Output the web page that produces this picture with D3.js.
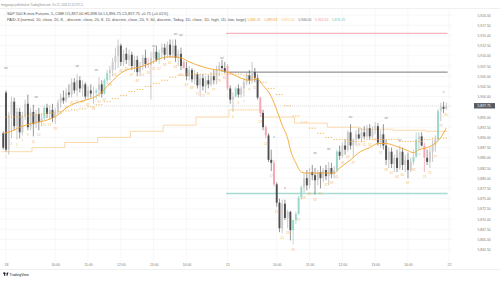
<!DOCTYPE html>
<html>
<head>
<meta charset="utf-8">
<script src="https://cdn.jsdelivr.net/npm/d3@7"></script>
<style>
  body { margin: 0; background: #fff; }
  svg { display: block; font-family: "Liberation Sans", "DejaVu Sans", sans-serif; }
</style>
</head>
<body>
<div id="chart"></div>
<script>
/* DATA */
// 5 min bars, [open, high, low, close]; first row is the last bar of the previous session
const candles18 = [
  [5891, 5891.5, 5887, 5887.5],
  [5901, 5901.5, 5886.5, 5887], [5887, 5896.25, 5885.75, 5895.5], [5895.5, 5900, 5889.75, 5898.75],
  [5898.75, 5899.75, 5891.75, 5892.75], [5892.75, 5897.25, 5889.5, 5896.25], [5896.25, 5897.25, 5889.75, 5891.25],
  [5891.25, 5896.25, 5890.5, 5895.25], [5895.25, 5899.25, 5894.25, 5898.25], [5898.25, 5900.5, 5891.75, 5892.5],
  [5892.5, 5897.25, 5891.75, 5896.25], [5896.25, 5898, 5890.25, 5893.25], [5893.25, 5896.75, 5892.25, 5895.75],
  [5895.75, 5897.25, 5891.75, 5893.75], [5893.75, 5895.75, 5892.75, 5894.75], [5894.75, 5897.75, 5894.25, 5897.25],
  [5897.25, 5898.25, 5894.75, 5895.75], [5895.75, 5897.75, 5894.25, 5896.75], [5896.75, 5898.25, 5893.75, 5894.75],
  [5894.75, 5897.25, 5893.25, 5896.25], [5896.25, 5899.25, 5895.75, 5898.5], [5898.5, 5900.75, 5897.25, 5899.75],
  [5899.75, 5901.5, 5898.25, 5899], [5899, 5902, 5898.5, 5901], [5901, 5903, 5899.75, 5900.5],
  [5900.5, 5904.5, 5899.75, 5903.5], [5903.5, 5904.5, 5900.75, 5901.5], [5901.5, 5905.5, 5900, 5904],
  [5904, 5905, 5901, 5902], [5902, 5904, 5900, 5903], [5903, 5903.5, 5899.25, 5900],
  [5900, 5902.5, 5899.25, 5901.5], [5901.5, 5903, 5899.75, 5900.75], [5900.75, 5902.5, 5898.25, 5901],
  [5901, 5902, 5899.25, 5901.5], [5901.5, 5904.75, 5900, 5903], [5903, 5904, 5899.75, 5900.75],
  [5900.75, 5904.5, 5900.5, 5904], [5904, 5906.5, 5903, 5905.75], [5905.75, 5907.5, 5904, 5906.5],
  [5906.5, 5909.5, 5905, 5908.5], [5908.5, 5912, 5906.5, 5910], [5910, 5914, 5907, 5912.5],
  [5912.5, 5913, 5907.5, 5908.5], [5908.5, 5911.5, 5907.5, 5910.5], [5910.5, 5912, 5908, 5909],
  [5909, 5911.5, 5907.5, 5910.25], [5910.25, 5911, 5906.5, 5907.5], [5907.5, 5910, 5906, 5909],
  [5909, 5910, 5905, 5906], [5906, 5908.5, 5905, 5907.5], [5907.5, 5910.25, 5906.5, 5909.5],
  [5909.5, 5911.5, 5907, 5908], [5908, 5909.5, 5907, 5907.75], [5907.75, 5911, 5899.25, 5909.5],
  [5909.5, 5912, 5908, 5911], [5911, 5912.5, 5908.5, 5909], [5909, 5911.5, 5908, 5910.75],
  [5910.75, 5913, 5909.5, 5912], [5912, 5913, 5909, 5910.25], [5910.25, 5913.5, 5909.5, 5912.75],
  [5912.75, 5914, 5909.5, 5910.25], [5910.25, 5914, 5909.5, 5912.5], [5912.5, 5914, 5908.5, 5909.5],
  [5909.5, 5911.5, 5907.5, 5910.5], [5910.5, 5912, 5906.5, 5907.5], [5908.5, 5909, 5906.75, 5907],
  [5907, 5908.5, 5904, 5905], [5905, 5907.5, 5904, 5906.5], [5906.5, 5907, 5903.5, 5904.25],
  [5904.25, 5906.5, 5903, 5905.5], [5905.5, 5906, 5902, 5902.75], [5902.75, 5905.5, 5900, 5904.5],
  [5904.5, 5905.5, 5901.5, 5902.5], [5902.5, 5905, 5900.75, 5904], [5904, 5905.25, 5902, 5903],
  [5903, 5906, 5902.5, 5905], [5905, 5906.5, 5903, 5904], [5904, 5907.5, 5903, 5906.5],
  [5906.5, 5908.5, 5905, 5907.5], [5907.5, 5909, 5906, 5907], [5907, 5908.5, 5905.75, 5906]
];
const candles21 = [
  [5907.5, 5908, 5901.5, 5902], [5902, 5902.75, 5898.25, 5899.25], [5899.25, 5901, 5896.25, 5900],
  [5900, 5902.5, 5899.75, 5902], [5902, 5903, 5899.75, 5900.5], [5900.5, 5902.5, 5899.75, 5902],
  [5902, 5904.5, 5900, 5903.5], [5903.5, 5906, 5902.75, 5905.25], [5905.25, 5906.5, 5903, 5904],
  [5904, 5908.5, 5903.25, 5906], [5906, 5907, 5903.5, 5904.5], [5904.5, 5905.5, 5899.25, 5899.75],
  [5899.75, 5900, 5895, 5896], [5896, 5896.75, 5891.75, 5892.5], [5892.5, 5893, 5889.75, 5890.5],
  [5890.5, 5891, 5884, 5884.5], [5884.5, 5887, 5881.75, 5883.75], [5883.75, 5884.5, 5878, 5878.5],
  [5878.5, 5879, 5873, 5874], [5874, 5875, 5866.75, 5867.75], [5867.75, 5874.75, 5866.5, 5873.75],
  [5873.75, 5874.75, 5869.75, 5870.25], [5870.25, 5872.25, 5867.75, 5871.75], [5871.75, 5872, 5864.75, 5867.25],
  [5867.25, 5869.75, 5863.75, 5869.75], [5869.75, 5871.75, 5868.75, 5871.25], [5871.25, 5875.75, 5871, 5875.25],
  [5875.25, 5878.25, 5874.75, 5877.75], [5877.75, 5881.25, 5876.5, 5880], [5880, 5882, 5877, 5878.25],
  [5878.25, 5882.5, 5877.5, 5881.5], [5881.5, 5883.25, 5879.5, 5880.75], [5880.75, 5882.5, 5876, 5879.5],
  [5879.5, 5882, 5878.25, 5881.5], [5881.5, 5883, 5877.5, 5880], [5880, 5882.5, 5879, 5882],
  [5882, 5883.25, 5879.5, 5880.5], [5880.5, 5884, 5878.25, 5882.5], [5882.5, 5883.75, 5880, 5881],
  [5881, 5883, 5880, 5882], [5882, 5887, 5881.5, 5886.5], [5886.5, 5888, 5884.5, 5885.5],
  [5885.5, 5888.75, 5885, 5888], [5888, 5889.5, 5885.75, 5887], [5887, 5891.75, 5886.5, 5891.25],
  [5891.25, 5893.25, 5887, 5888], [5888, 5889.75, 5885, 5889.5], [5889.5, 5891.75, 5888, 5890.75],
  [5890.75, 5892.25, 5889.5, 5889.75], [5889.75, 5892.25, 5888.75, 5891.25], [5891.25, 5892.75, 5889.5, 5890.25],
  [5890.25, 5893, 5889.75, 5892.25], [5892.25, 5893.25, 5889.5, 5890.25], [5890.25, 5892.75, 5889.75, 5891.75],
  [5891.75, 5893.75, 5890.75, 5892.75], [5892.75, 5893.5, 5888, 5888.75], [5888.75, 5891.75, 5887.5, 5890.75],
  [5890.75, 5893.25, 5887, 5888], [5888, 5889.5, 5883.25, 5884.5], [5884.5, 5887.5, 5882.5, 5886.5],
  [5886.5, 5887.5, 5882.5, 5883.5], [5883.5, 5885.75, 5881.5, 5885], [5885, 5887, 5881.5, 5882.5],
  [5882.5, 5888, 5882, 5886.5], [5886.5, 5887.5, 5882, 5883.25], [5883.25, 5885.75, 5881.5, 5884.5],
  [5884.5, 5886.25, 5880, 5882], [5882, 5885, 5881.5, 5884], [5884, 5887, 5883.25, 5885.25],
  [5885.25, 5891.25, 5885, 5889.5], [5889.5, 5891.25, 5887, 5890.25], [5890.25, 5891.25, 5887.75, 5888],
  [5888, 5888.75, 5881.5, 5885], [5885, 5887, 5883.25, 5884], [5884, 5887.5, 5882.5, 5886.5],
  [5886.5, 5889.5, 5884, 5888], [5888, 5890.5, 5886.5, 5889.5], [5889.5, 5897, 5889, 5896.5],
  [5896.5, 5898.5, 5894, 5897.5], [5897.5, 5898.75, 5896, 5897], [5897, 5898.5, 5896.75, 5897.75]
];
// signal-coloured bars (bar index, 0 = first bar of Oct 18)
const pinkBars = [52, 65, 81, 93, 95, 98, 153];
const tealBars = [14, 33, 36, 37, 56, 84, 105, 106, 107, 108, 121, 149, 150, 158];

// 5 min moving average, read at [bar index, price]
const ema5 = [[-1, 5891], [2, 5891.5], [5, 5892.5], [10, 5893.5], [15, 5894.25], [19, 5895.5], [22, 5897.25],
  [27, 5898.75], [31, 5899.5], [34, 5900.5], [38, 5903.25], [42, 5905.75], [45, 5906.75], [49, 5907.25],
  [53, 5908.25], [56, 5909.25], [60, 5909.75], [64, 5909.5], [67, 5908.5], [71, 5907.5], [75, 5906.75],
  [78, 5906.5], [82, 5905.75], [86, 5904.5], [89, 5904], [92, 5904.25], [94, 5902.75], [97, 5900],
  [99, 5896.75], [101, 5893], [103, 5889.75], [104, 5887], [106, 5883.75], [108, 5881.5], [110, 5881.25],
  [115, 5881.25], [120, 5881.25], [122, 5882.5], [126, 5884.5], [129, 5886.25], [133, 5887.5], [136, 5888.5],
  [139, 5888.5], [143, 5887.75], [147, 5886.75], [149, 5886.25], [151, 5887], [155, 5887.75], [159, 5890],
  [161, 5892.25]];
// 15 min average, one value per 15 min block (3 bars)
const ma15 = [5895, 5895, 5895.25, 5895.5, 5895.75, 5896, 5896.25, 5896.5, 5896.75, 5897, 5897.5, 5898,
  5898.75, 5899.5, 5900.25, 5901.25, 5901.75, 5902.5, 5903.25, 5904, 5904.75, 5905.25, 5905.5, 5905.5,
  5905.5, 5905.5, 5905.5,
  5905.5, 5905.5, 5905.25, 5904.75, 5903.5, 5902, 5900.5, 5897.75, 5895.25, 5893.75, 5892.25, 5891, 5890,
  5889.5, 5889.5, 5889, 5889, 5889.5, 5889.5, 5889.5, 5889.5, 5889, 5889, 5889, 5889.5, 5889.75, 5889.83];
// 60 min average, first bar of each step and its value
const ma60Start = [-1, 10, 22, 34, 46, 58, 70, 82, 94, 106, 118, 130, 142, 154];
const ma60 = [5886.5, 5887.5, 5888.75, 5890, 5891.5, 5893, 5895, 5896.75, 5895, 5893.5, 5892.5, 5892, 5891.75, 5891.5];

// previous day close / high / low
const dayLevels = [5906.00, 5915.50, 5876.25];
const legendValues = [5880.41, 5889.83, 5891.50, 5906.00, 5915.50, 5876.25];

// pattern marks [bar index, price]
const ioiMarks = [[0, 5907], [11, 5900], [26, 5907.5], [33, 5906.5], [54, 5912.5], [62, 5915.5], [64, 5915.25],
  [79, 5909.5], [113, 5886.25], [118, 5887.25], [126, 5895], [139, 5894.75], [144, 5889.5]];
const iiMarks = [[98, 5890.25], [102, 5877.75], [160, 5901.25]];

const priceTicks = [5862.5, 5865, 5867.5, 5870, 5872.5, 5875, 5877.5, 5880, 5882.5, 5885, 5887.5, 5890,
  5892.5, 5895, 5897.5, 5900, 5902.5, 5905, 5907.5, 5910, 5912.5, 5915, 5917.5, 5920];
const timeTicks = [0, 18, 30, 42, 54, 66, 81, 99, 111, 123, 135, 147, 162];
const timeLabels = ["18", "10:00", "11:00", "12:00", "13:00", "14:00", "21", "10:00", "11:00", "12:00", "13:00", "14:00", "22"];

/* SETUP */
const width = 500, height = 281;
const paneRight = 452, paneTop = 9, paneBottom = 261;
const fmt = d3.format(",.2f");

const x = d3.scaleLinear().domain([0, 162]).range([6, 449]);
const y = d3.scaleLinear().domain([5862.5, 5920]).range([249.6, 15]);

const bars = [];
candles18.forEach((d, k) => bars.push({ i: k - 1, o: d[0], h: d[1], l: d[2], c: d[3] }));
candles21.forEach((d, k) => bars.push({ i: k + 81, o: d[0], h: d[1], l: d[2], c: d[3] }));
const last = bars[bars.length - 1];
const prev = bars[bars.length - 2];

const svg = d3.select("#chart").append("svg")
  .attr("width", width)
  .attr("height", height);

svg.append("defs").append("clipPath").attr("id", "pane")
  .append("rect").attr("x", 0).attr("y", paneTop).attr("width", paneRight).attr("height", paneBottom - paneTop);

// frame lines
svg.append("line").attr("x1", 0).attr("x2", width).attr("y1", 8.5).attr("y2", 8.5).attr("stroke", "#e6e6e6").attr("stroke-width", 0.6);
svg.append("line").attr("x1", 0).attr("x2", width).attr("y1", 269.5).attr("y2", 269.5).attr("stroke", "#e6e6e6").attr("stroke-width", 0.6);

// grid
const grid = svg.append("g").attr("clip-path", "url(#pane)");
grid.selectAll(".hg").data(priceTicks).join("line")
  .attr("x1", 0).attr("x2", paneRight)
  .attr("y1", d => y(d)).attr("y2", d => y(d))
  .attr("stroke", "#f1f1f1").attr("stroke-width", 0.6);
grid.selectAll(".vg").data(timeTicks).join("line")
  .attr("x1", d => x(d)).attr("x2", d => x(d))
  .attr("y1", paneTop).attr("y2", paneBottom)
  .attr("stroke", "#f1f1f1").attr("stroke-width", 0.6);

const plot = svg.append("g").attr("clip-path", "url(#pane)");

// current price line
plot.append("line")
  .attr("x1", 0).attr("x2", paneRight)
  .attr("y1", y(last.c)).attr("y2", y(last.c))
  .attr("stroke", "#cfcfcf").attr("stroke-width", 0.6).attr("stroke-dasharray", "1,1");

// 60 min step line
const stepPts = ma60Start.map((s, k) => [s - 0.5, ma60[k]]);
stepPts.push([161.5, ma60[ma60.length - 1]]);
plot.append("path")
  .attr("d", d3.line().x(d => x(d[0])).y(d => y(d[1])).curve(d3.curveStepAfter)(stepPts))
  .attr("fill", "none").attr("stroke", "#fbd6a3").attr("stroke-width", 0.9);

// daily levels on Oct 21
const levelColors = ["#6a6a6a", "#f7b3bd", "#a6dccf"];
plot.selectAll(".lvl").data(dayLevels).join("line")
  .attr("x1", x(80.5)).attr("x2", x(161.5))
  .attr("y1", d => y(d)).attr("y2", d => y(d))
  .attr("stroke", (d, k) => levelColors[k])
  .attr("stroke-width", (d, k) => k === 0 ? 0.9 : 1.3);

// candles
const colorOf = d => pinkBars.includes(d.i) ? "#f5a5b3"
  : tealBars.includes(d.i) ? "#98d7ca"
  : d.c >= d.o ? "#cbcbcb" : "#4f4f4f";
const wickOf = d => pinkBars.includes(d.i) ? "#f08c9c"
  : tealBars.includes(d.i) ? "#86c9bb"
  : d.c >= d.o ? "#a5a5a5" : "#4f4f4f";

plot.selectAll(".wick").data(bars).join("line")
  .attr("x1", d => x(d.i)).attr("x2", d => x(d.i))
  .attr("y1", d => y(d.h)).attr("y2", d => y(d.l))
  .attr("stroke", wickOf).attr("stroke-width", 0.6);

plot.selectAll(".body").data(bars).join("rect")
  .attr("x", d => x(d.i) - 0.95)
  .attr("width", 1.9)
  .attr("y", d => y(Math.max(d.o, d.c)))
  .attr("height", d => Math.max(0.6, Math.abs(y(d.o) - y(d.c))))
  .attr("fill", colorOf);

// 5 min average
plot.append("path")
  .attr("d", d3.line().x(d => x(d[0])).y(d => y(d[1])).curve(d3.curveMonotoneX)(ema5))
  .attr("fill", "none").attr("stroke", "#f5a52a").attr("stroke-width", 0.9);

// 15 min average as short dashes, one per bar of each block
const dashes = [];
ma15.forEach((v, b) => { for (let k = 0; k < 3; k++) dashes.push([b * 3 + k, v]); });
plot.selectAll(".dash").data(dashes).join("line")
  .attr("x1", d => x(d[0]) - 0.6).attr("x2", d => x(d[0]) + 0.6)
  .attr("y1", d => y(d[1])).attr("y2", d => y(d[1]))
  .attr("stroke", "#f5a52a").attr("stroke-width", 0.8);

// bar counts under the lows (odd bars of each session)
const counts = bars.filter(d => d.i >= 0)
  .map(d => ({ ...d, n: d.i < 81 ? d.i + 1 : d.i - 80 }))
  .filter(d => d.n % 2 === 1);
plot.selectAll(".cnt").data(counts).join("text")
  .attr("x", d => x(d.i)).attr("y", d => y(d.l) + 6.2)
  .attr("text-anchor", "middle")
  .attr("font-size", 3.1)
  .attr("fill", "#f6b766")
  .text(d => d.n);

plot.selectAll(".ioi").data(ioiMarks).join("text")
  .attr("x", d => x(d[0])).attr("y", d => y(d[1]) + 1.2)
  .attr("text-anchor", "middle").attr("font-size", 3.4).attr("fill", "#8c8c8c")
  .text("ioi");
plot.selectAll(".ii").data(iiMarks).join("text")
  .attr("x", d => x(d[0])).attr("y", d => y(d[1]) + 1.2)
  .attr("text-anchor", "middle").attr("font-size", 3.4).attr("fill", "#8c8c8c")
  .text("ii");

// price axis
const yAxis = d3.axisRight(y).tickValues(priceTicks).tickFormat(fmt).tickSize(0).tickPadding(0);
const yAxisGroup = svg.append("g").attr("transform", `translate(${477.5}, 0)`).call(yAxis);
yAxisGroup.select(".domain").remove();
yAxisGroup.selectAll("text")
  .attr("font-size", 3.4).attr("fill", "#7a7a7a")
  .attr("font-family", "Liberation Sans, sans-serif");

// last price tag
svg.append("rect")
  .attr("x", 474).attr("y", y(last.c) - 2.7).attr("width", 21).attr("height", 5.4)
  .attr("fill", "#575b63");
svg.append("text")
  .attr("x", 477.5).attr("y", y(last.c) + 1.2)
  .attr("font-size", 3.4).attr("fill", "#fff")
  .text(fmt(last.c));

// time axis
const xAxis = d3.axisBottom(x).tickValues(timeTicks).tickFormat((d, k) => timeLabels[k]).tickSize(0).tickPadding(0);
const xAxisGroup = svg.append("g").attr("transform", `translate(0, ${263.5})`).call(xAxis);
xAxisGroup.select(".domain").remove();
xAxisGroup.selectAll("text")
  .attr("font-size", 3.4).attr("fill", "#7a7a7a")
  .attr("font-family", "Liberation Sans, sans-serif");

// header
svg.append("text")
  .attr("x", 1).attr("y", 5.9)
  .attr("font-size", 3).attr("fill", "#8a8a8a")
  .attr("textLength", 82).attr("lengthAdjust", "spacingAndGlyphs")
  .text("fengyangsi published on TradingView.com, Oct 21, 2024 21:15 UTC-5");

const chg = last.c - prev.c;
svg.append("text")
  .attr("x", 7).attr("y", 15.2)
  .attr("font-size", 3.4).attr("fill", "#555")
  .attr("textLength", 161).attr("lengthAdjust", "spacingAndGlyphs")
  .text(`S&P 500 E-mini Futures, 5, CME  O${fmt(last.o)}  H${fmt(last.h)}  L${fmt(last.l)}  C${fmt(last.c)}  ${chg >= 0 ? "+" : "\u2212"}${Math.abs(chg).toFixed(2)} (${chg >= 0 ? "+" : "\u2212"}${Math.abs(chg / prev.c * 100).toFixed(2)}%)`);

svg.append("text")
  .attr("x", 7).attr("y", 20.6)
  .attr("font-size", 3.4).attr("fill", "#555")
  .attr("textLength", 239).attr("lengthAdjust", "spacingAndGlyphs")
  .text("PAID-3 (normal, 10, close, 20, 8, , discrete, close, 20, 8, 15, discrete, close, 20, 9, 60, discrete, Today, 1D, close, 1D, high, 1D, low, large)");

const legendColors = ["#f5a52a", "#f5a52a", "#f8c27a", "#6a6a6a", "#f08c9c", "#6cc3b1"];
svg.selectAll(".lg").data(legendValues).join("text")
  .attr("x", (d, k) => 247.5 + k * 16.9).attr("y", 20.6)
  .attr("font-size", 3.4)
  .attr("fill", (d, k) => legendColors[k])
  .text(d => fmt(d));

// TradingView logo
const logo = svg.append("g").attr("transform", "translate(3, 272.6)");
logo.append("rect").attr("x", 0).attr("y", 0).attr("width", 2.2).attr("height", 1.1).attr("fill", "#131722");
logo.append("rect").attr("x", 1.1).attr("y", 0).attr("width", 1.1).attr("height", 3.2).attr("fill", "#131722");
logo.append("circle").attr("cx", 3.1).attr("cy", 0.6).attr("r", 0.55).attr("fill", "#131722");
logo.append("path").attr("d", "M3.3,3.2 L4.3,0 L5.4,0 L4.4,3.2 Z").attr("fill", "#131722");
svg.append("text")
  .attr("x", 9.5).attr("y", 275.9)
  .attr("font-size", 3.5).attr("fill", "#131722")
  .text("TradingView");
</script>
</body>
</html>
